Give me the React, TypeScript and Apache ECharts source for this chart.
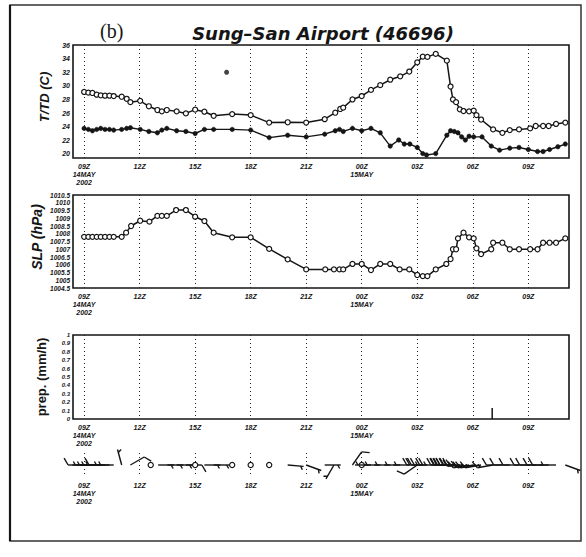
import React, { useEffect, useRef } from "react";
import * as echarts from "echarts";

// x: hours after 09Z 14 May 2002
const tickHours = [0, 3, 6, 9, 12, 15, 18, 21, 24];
const tickLabels = ["09Z\n14MAY\n2002", "12Z", "15Z", "18Z", "21Z", "00Z\n15MAY", "03Z", "06Z", "09Z"];
const tempTicks = [20, 22, 24, 26, 28, 30, 32, 34, 36];

const tHours = [0, 0.23, 0.45, 0.68, 0.9, 1.13, 1.37, 1.6, 2.03, 2.3, 2.5, 3.03, 3.5, 3.96, 4.2, 4.47, 5.0, 5.5, 6.0, 6.5, 7.0, 8.0, 9.0, 10.0, 11.0, 12.0, 13.0, 13.57, 13.84, 14.0, 14.5, 15.0, 15.5, 16.0, 16.54, 17.08, 17.57, 18.0, 18.3, 18.55, 19.0, 19.6, 19.8, 19.93, 20.1, 20.3, 20.5, 20.8, 21.05, 21.2, 21.45, 22.1, 22.6, 23.0, 23.5, 24.1, 24.4, 24.8, 25.1, 25.5, 26.0];
const tValues = [29.1, 29.0, 28.95, 28.7, 28.6, 28.55, 28.55, 28.5, 28.4, 28.1, 27.6, 27.8, 27.0, 26.45, 26.25, 26.45, 26.25, 25.95, 26.5, 26.2, 25.6, 25.85, 25.7, 24.6, 24.65, 24.6, 25.1, 26.05, 26.6, 26.8, 28.0, 28.5, 29.4, 30.1, 30.9, 31.4, 32.1, 33.45, 34.3, 34.25, 34.7, 33.7, 29.9, 28.0, 27.6, 26.55, 26.3, 26.25, 26.35, 25.7, 25.05, 23.6, 23.1, 23.5, 23.6, 23.75, 24.1, 24.1, 24.1, 24.4, 24.6];

const tdHours = [0, 0.23, 0.45, 0.68, 0.9, 1.13, 1.37, 1.6, 2.03, 2.3, 2.5, 3.03, 3.5, 3.96, 4.2, 4.47, 5.0, 5.5, 6.0, 6.5, 7.0, 8.0, 9.0, 10.0, 11.0, 12.0, 13.0, 13.57, 13.8, 14.0, 14.5, 15.0, 15.5, 16.0, 16.54, 17.0, 17.3, 17.6, 18.0, 18.3, 18.5, 19.0, 19.6, 19.8, 20.0, 20.2, 20.4, 20.6, 20.8, 21.05, 21.5, 22.0, 22.45, 23.0, 23.5, 24.0, 24.5, 24.8, 25.15, 25.6, 26.0];
const tdValues = [23.75, 23.6, 23.4, 23.6, 23.75, 23.6, 23.6, 23.5, 23.6, 23.75, 23.85, 23.6, 23.3, 23.1, 23.5, 23.75, 23.4, 23.3, 23.0, 23.6, 23.6, 23.6, 23.5, 22.4, 22.75, 22.5, 22.9, 23.4, 23.6, 23.3, 23.75, 23.4, 23.75, 23.1, 21.15, 22.05, 21.45, 21.45, 20.95, 20.05, 19.85, 20.05, 22.75, 23.4, 23.3, 23.1, 22.5, 22.05, 22.6, 22.5, 22.5, 21.15, 20.55, 20.85, 20.95, 20.65, 20.35, 20.35, 20.65, 21.05, 21.45];

const strayHours = [7.7];
const strayValues = [32.0];

const slpHours = [0, 0.23, 0.45, 0.68, 0.9, 1.13, 1.37, 1.6, 2.03, 2.27, 2.54, 3.03, 3.53, 3.96, 4.2, 4.47, 4.97, 5.5, 6.0, 6.5, 7.0, 8.0, 9.0, 10.0, 11.0, 12.0, 13.03, 13.5, 13.8, 14.0, 14.5, 15.0, 15.5, 16.0, 16.54, 17.05, 17.57, 18.0, 18.3, 18.55, 19.0, 19.57, 19.8, 19.93, 20.1, 20.2, 20.5, 20.8, 21.05, 21.2, 21.45, 22.0, 22.1, 22.6, 23.0, 23.5, 24.1, 24.5, 24.8, 25.15, 25.5, 26.0];
const slpValues = [1007.8, 1007.8, 1007.8, 1007.8, 1007.8, 1007.8, 1007.8, 1007.8, 1007.8, 1008.07, 1008.5, 1008.84, 1008.78, 1009.15, 1009.15, 1009.15, 1009.53, 1009.53, 1009.1, 1008.82, 1008.07, 1007.77, 1007.77, 1007.02, 1006.35, 1005.7, 1005.7, 1005.7, 1005.7, 1005.7, 1006.05, 1006.05, 1005.66, 1006.05, 1006.05, 1005.7, 1005.7, 1005.34, 1005.27, 1005.27, 1005.7, 1006.05, 1006.37, 1007.0, 1007.0, 1007.7, 1008.07, 1007.77, 1007.7, 1007.06, 1006.69, 1007.0, 1007.42, 1007.42, 1007.0, 1007.0, 1007.0, 1007.0, 1007.42, 1007.42, 1007.42, 1007.7];

const precipHours = [22.05];
const precipValues = [0.13];

const windHours = [0, 0.23, 0.45, 0.68, 0.9, 1.13, 1.37, 1.6, 2.03, 2.5, 3.6, 4.0, 4.5, 5.0, 5.5, 6.0, 6.5, 7.0, 8.0, 9.0, 10.0, 11.0, 12.0, 13.0, 13.5, 14.5, 15.0, 15.5, 16.0, 16.54, 17.08, 17.57, 18.0, 18.3, 18.55, 19.0, 19.6, 19.8, 19.93, 20.1, 20.3, 20.5, 20.8, 21.05, 21.2, 21.45, 22.1, 22.6, 23.0, 23.5, 24.1, 24.4, 24.8, 25.1, 25.5, 26.0];
const windDirs = [270, 270, 270, 270, 270, 270, 270, 270, 345, 60, 0, 90, 90, 90, 90, 0, 90, 90, 0, 0, 0, 95, 110, 90, 210, 35, 0, 270, 270, 270, 270, 270, 235, 270, 270, 270, 270, 270, 270, 270, 270, 265, 260, 260, 260, 260, 260, 270, 270, 270, 270, 270, 270, 270, 270, 110];
const windSpeeds = [10, 5, 5, 5, 5, 10, 5, 5, 5, 10, 0, 5, 5, 5, 10, 0, 5, 5, 0, 0, 0, 5, 5, 5, 5, 10, 0, 5, 5, 5, 5, 5, 10, 20, 25, 25, 25, 20, 20, 25, 20, 20, 20, 15, 15, 15, 15, 10, 10, 10, 10, 10, 10, 10, 5, 5];

const INK = "#151515";
const labelFont = { fontFamily: "Liberation Sans", fontWeight: "bold", fontStyle: "italic" } as const;

function tickLabel(v: number) {
  const i = tickHours.findIndex((t) => Math.abs(t - v) < 0.01);
  return i >= 0 ? tickLabels[i] : "";
}

function makeX(gridIndex: number) {
  return {
    type: "value",
    gridIndex,
    min: -0.6,
    max: 26.2,
    axisLine: { show: false },
    axisTick: { show: false, customValues: tickHours },
    axisLabel: {
      customValues: tickHours,
      formatter: (v: number) => tickLabel(v),
      ...labelFont,
      fontSize: 7,
      lineHeight: 8,
      margin: 4,
      color: INK,
    },
    splitLine: { show: true, lineStyle: { type: [1, 3], color: "#222", width: 1 } },
  };
}

export default function App() {
  const ref = useRef<HTMLDivElement>(null);
  useEffect(() => {
    if (!ref.current) return;
    const chart = echarts.init(ref.current, undefined, { renderer: "svg" });
    const gridBase = { left: 73, width: 496, show: true, borderColor: INK, borderWidth: 1.6, backgroundColor: "transparent" };
    const option: any = {
      animation: false,
      backgroundColor: "#fff",
      textStyle: { fontFamily: "Liberation Sans" },
      grid: [
        { ...gridBase, top: 45, height: 113 },
        { ...gridBase, top: 195, height: 93 },
        { ...gridBase, top: 335, height: 84 },
        { left: 73, width: 496, top: 453, height: 24, show: false },
      ],
      xAxis: [makeX(0), makeX(1), makeX(2), makeX(3)],
      yAxis: [
        {
          type: "value", gridIndex: 0, min: 19.4, max: 36,
          axisLine: { show: false }, axisTick: { show: false }, splitLine: { show: false },
          axisLabel: { customValues: tempTicks, ...labelFont, fontSize: 7, margin: 3, color: INK },
        },
        {
          type: "value", gridIndex: 1, min: 1004.5, max: 1010.5, interval: 0.5,
          axisLine: { show: false }, axisTick: { show: false }, splitLine: { show: false },
          axisLabel: { ...labelFont, fontSize: 6.5, margin: 3, color: INK, formatter: (v: number) => String(v) },
        },
        {
          type: "value", gridIndex: 2, min: 0, max: 1, interval: 0.1,
          axisLine: { show: false }, axisTick: { show: false }, splitLine: { show: false },
          axisLabel: { ...labelFont, fontSize: 6, margin: 3, color: INK, formatter: (v: number) => String(Math.round(v * 10) / 10) },
        },
        { type: "value", gridIndex: 3, min: 0, max: 1, show: false },
      ],
      series: [
        {
          type: "line", xAxisIndex: 0, yAxisIndex: 0,
          data: tHours.map((h, i) => [h, tValues[i]]),
          symbol: "circle", symbolSize: 5, showAllSymbol: true,
          lineStyle: { color: INK, width: 1.5 },
          itemStyle: { color: "#fff", borderColor: INK, borderWidth: 1.2 },
        },
        {
          type: "line", xAxisIndex: 0, yAxisIndex: 0,
          data: tdHours.map((h, i) => [h, tdValues[i]]),
          symbol: "circle", symbolSize: 4.5, showAllSymbol: true,
          lineStyle: { color: INK, width: 1.4 },
          itemStyle: { color: INK, borderColor: INK, borderWidth: 0.5 },
        },
        {
          type: "scatter", xAxisIndex: 0, yAxisIndex: 0,
          data: strayHours.map((h, i) => [h, strayValues[i]]),
          symbol: "circle", symbolSize: 5, itemStyle: { color: INK },
        },
        {
          type: "line", xAxisIndex: 1, yAxisIndex: 1,
          data: slpHours.map((h, i) => [h, slpValues[i]]),
          symbol: "circle", symbolSize: 5, showAllSymbol: true,
          lineStyle: { color: INK, width: 1.5 },
          itemStyle: { color: "#fff", borderColor: INK, borderWidth: 1.2 },
        },
        {
          type: "bar", xAxisIndex: 2, yAxisIndex: 2,
          data: precipHours.map((h, i) => [h, precipValues[i]]),
          barWidth: 1.5, itemStyle: { color: INK },
        },
        {
          type: "custom", xAxisIndex: 3, yAxisIndex: 3,
          data: windHours.map((h, i) => [h, 0.5, windDirs[i], windSpeeds[i]]),
          encode: { x: 0, y: 1 },
          renderItem: (params: any, api: any) => {
            const pt = api.coord([api.value(0), api.value(1)]);
            const cx = pt[0], cy = pt[1];
            const dir = api.value(2), spd = api.value(3);
            const st = { stroke: INK, lineWidth: 1.4, fill: "none" };
            if (spd <= 0) {
              return { type: "circle", shape: { cx, cy, r: 2.6 }, style: { fill: "#fff", stroke: INK, lineWidth: 1.2 } };
            }
            const rad = (dir * Math.PI) / 180;
            const dx = Math.sin(rad), dy = -Math.cos(rad);
            const px = -dy, py = dx;
            const L = 16;
            const children: any[] = [
              { type: "line", shape: { x1: cx, y1: cy, x2: cx + dx * L, y2: cy + dy * L }, style: st },
            ];
            let rem = spd;
            let pos = L;
            while (rem >= 10) {
              const bx = cx + dx * pos, by = cy + dy * pos;
              children.push({ type: "line", shape: { x1: bx, y1: by, x2: bx + (px * 0.87 + dx * 0.5) * 8, y2: by + (py * 0.87 + dy * 0.5) * 8 }, style: st });
              rem -= 10;
              pos -= 3;
            }
            if (rem >= 5) {
              if (spd < 10) pos -= 3;
              const bx = cx + dx * pos, by = cy + dy * pos;
              children.push({ type: "line", shape: { x1: bx, y1: by, x2: bx + (px * 0.87 + dx * 0.5) * 4, y2: by + (py * 0.87 + dy * 0.5) * 4 }, style: st });
            }
            return { type: "group", children };
          },
        },
      ],
      graphic: [
        { type: "rect", shape: { x: 10, y: 5, width: 571, height: 536 }, style: { fill: "none", stroke: "#333", lineWidth: 1.5 } },
        { type: "line", shape: { x1: 10, y1: 5, x2: 10, y2: 541 }, style: { stroke: INK, lineWidth: 2.2 } },
        { type: "text", x: 100, y: 21, style: { text: "(b)", font: '20px "Liberation Serif"', fill: INK } },
        { type: "text", x: 323, y: 33, style: { text: "Sung–San Airport (46696)", font: 'italic bold 18px "DejaVu Sans"', fill: INK, align: "center", verticalAlign: "middle" } },
        { type: "text", x: 44, y: 97, rotation: Math.PI / 2, style: { text: "T/TD (C)", font: 'italic bold 13px "Liberation Sans"', fill: INK, align: "center", verticalAlign: "middle" } },
        { type: "text", x: 37, y: 237, rotation: Math.PI / 2, style: { text: "SLP (hPa)", font: 'italic bold 14px "Liberation Sans"', fill: INK, align: "center", verticalAlign: "middle" } },
        { type: "text", x: 41, y: 377, rotation: Math.PI / 2, style: { text: "prep. (mm/h)", font: 'bold 13px "Liberation Sans"', fill: INK, align: "center", verticalAlign: "middle" } },
      ],
    };
    chart.setOption(option);
    return () => chart.dispose();
  }, []);
  return <div ref={ref} style={{ position: "fixed", left: 0, top: 0, width: 586, height: 557, background: "#fff" }} />;
}
